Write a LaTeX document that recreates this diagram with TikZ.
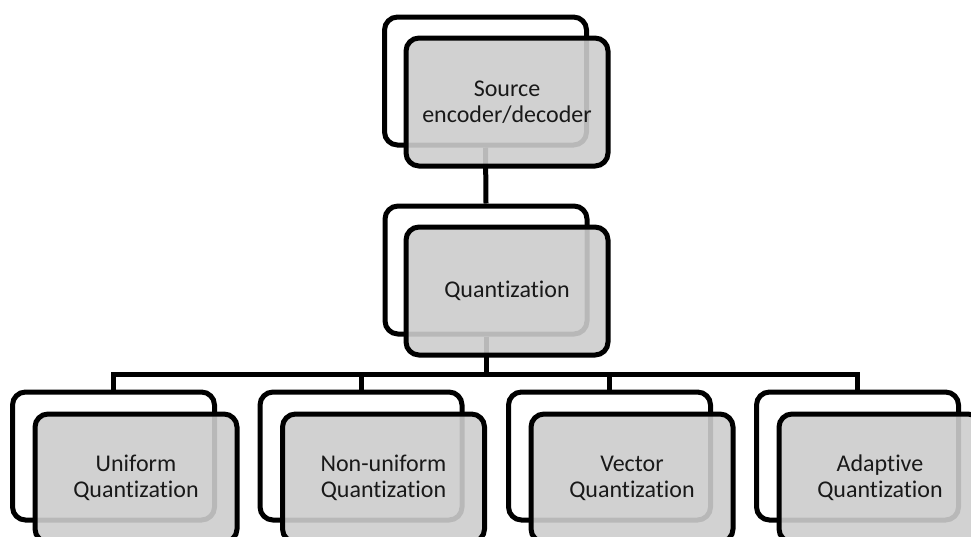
\documentclass[tikz,border=0pt]{standalone}
\usepackage{fontspec}
\setmainfont{Carlito}[Ligatures=NoCommon]
\definecolor{boxgray}{RGB}{205,205,205}
\definecolor{inkgray}{RGB}{25,25,25}
\begin{document}
\begin{tikzpicture}[x=1pt,y=-1pt,
  backbox/.style={draw=black, line width=5pt, fill=white, rounded corners=13pt,
    minimum width=202pt, minimum height=128pt, inner sep=0pt},
  frontbox/.style={draw=black, line width=5pt, fill=boxgray, fill opacity=0.9,
    text opacity=1, rounded corners=13pt, minimum width=202pt, minimum height=128pt,
    inner sep=0pt, align=center, text=inkgray, font=\fontsize{24}{26}\selectfont},
  link/.style={line width=5pt}]
\useasboundingbox (0,0) rectangle (971,536);
\clip (0,0) rectangle (971,536);

% back cards
\node[backbox] (srcB) at (485.5,81) {};
\node[backbox] (quantB) at (486,270) {};
\node[backbox] (uniB) at (113.5,456) {};
\node[backbox] (nonB) at (361,456) {};
\node[backbox] (vecB) at (609.5,456) {};
\node[backbox] (adaB) at (857.5,456) {};

% hierarchy connectors
\coordinate (bus) at (0,374);
\draw[link] (srcB.south) -- (quantB.north);
\draw[link] (quantB.south) -- (quantB.south |- bus);
\draw[link] (uniB.north) -- (uniB.north |- bus) -- (adaB.north |- bus) -- (adaB.north);
\draw[link] (nonB.north) -- (nonB.north |- bus);
\draw[link] (vecB.north) -- (vecB.north |- bus);

% front cards with labels
\node[frontbox] (src) at (507,102) {Source\\encoder/decoder};
\node[frontbox] (quant) at (507,291) {Quantization};
\node[frontbox] (uni) at (136,478) {Uniform\\Quantization};
\node[frontbox] (non) at (383.5,478) {Non-uniform\\Quantization};
\node[frontbox] (vec) at (632,478) {Vector\\Quantization};
\node[frontbox] (ada) at (880,478) {Adaptive\\Quantization};
\end{tikzpicture}
\end{document}
